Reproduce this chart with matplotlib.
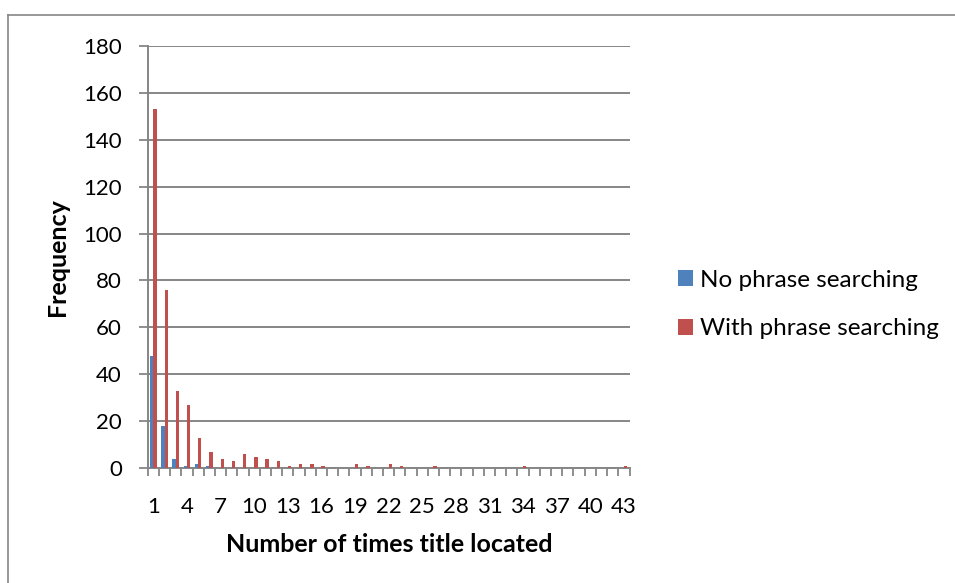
import matplotlib
matplotlib.use("Agg")
import matplotlib.pyplot as plt
from matplotlib.lines import Line2D
from matplotlib.patches import Patch
import numpy as np

plt.rcParams['font.family'] = ['Lato', 'DejaVu Sans']

categories = list(range(1, 44))
no_phrase = [48, 18, 4, 1, 2, 1] + [0] * 37
with_phrase = [153, 76, 33, 27, 13, 7, 4, 3, 6, 5, 4, 3, 1, 2, 2, 1, 0, 0, 2, 1,
               0, 2, 1, 0, 0, 1, 0, 0, 0, 0, 0, 0, 0, 1, 0, 0, 0, 0, 0, 0, 0, 0, 1]
tick_labels = [str(c) for c in categories[::3]]
y_ticks = list(range(0, 181, 20))

blue = '#4F81BD'
red = '#C0504D'
grid_col = '#868686'

W, H = 955, 583
fig = plt.figure(figsize=(W / 100, H / 100), dpi=100)

x0, x1 = 147.7, 629.5
y0, y1 = 468.3, 45.7
ax = fig.add_axes([x0 / W, 1 - y0 / H, (x1 - x0) / W, (y0 - y1) / H])

x = np.array(categories, dtype=float)
w = 0.3
ax.bar(x - w / 2, no_phrase, width=w, color=blue, label='No phrase searching', zorder=3)
ax.bar(x + w / 2, with_phrase, width=w, color=red, label='With phrase searching', zorder=3)

ax.set_xlim(0.5, 43.5)
ax.set_ylim(0, 180)
ax.set_yticks(y_ticks)
ax.yaxis.grid(True, color=grid_col, linewidth=1.4, zorder=0)
ax.set_axisbelow(True)

# category boundaries carry the tick marks; labels sit at every third category
ax.set_xticks(np.arange(0.5, 44.0, 1.0))
ax.set_xticklabels([])
ax.set_xticks(x[::3], minor=True)
ax.set_xticklabels(tick_labels, minor=True)
ax.tick_params(axis='x', which='major', direction='out', length=6, width=1.3, color=grid_col)
ax.tick_params(axis='x', which='minor', length=0, pad=21, labelsize=16)
ax.tick_params(axis='y', direction='out', length=6.5, width=1.3, color=grid_col,
               labelsize=16, pad=12)

for side in ['top', 'right']:
    ax.spines[side].set_visible(False)
for side in ['left', 'bottom']:
    ax.spines[side].set_color(grid_col)
    ax.spines[side].set_linewidth(1.4)

ax.set_ylabel('Frequency', fontsize=18, fontweight='bold', va='center')
ax.yaxis.set_label_coords((58 - x0) / (x1 - x0), (y0 - 257) / (y0 - y1))
ax.set_xlabel('Number of times title located', fontsize=18, fontweight='bold', va='center')
ax.xaxis.set_label_coords((389 - x0) / (x1 - x0), (y0 - 545) / (y0 - y1))

handles = [Patch(facecolor=blue), Patch(facecolor=red)]
fig.legend(handles, ['No phrase searching', 'With phrase searching'],
           loc='center left', bbox_to_anchor=(678 / W, 1 - 304.5 / H), frameon=False,
           fontsize=17.5, handlelength=0.62, handleheight=0.62, handletextpad=0.3,
           labelspacing=1.15, borderaxespad=0, borderpad=0)

# outer chart border
fig.add_artist(Line2D([7.5 / W, 7.5 / W], [0, 1 - 15 / H], transform=fig.transFigure,
                      color=grid_col, linewidth=1.2))
fig.add_artist(Line2D([7.5 / W, 1], [1 - 15 / H, 1 - 15 / H], transform=fig.transFigure,
                      color=grid_col, linewidth=1.2))

fig.savefig('out.png', dpi=100)
